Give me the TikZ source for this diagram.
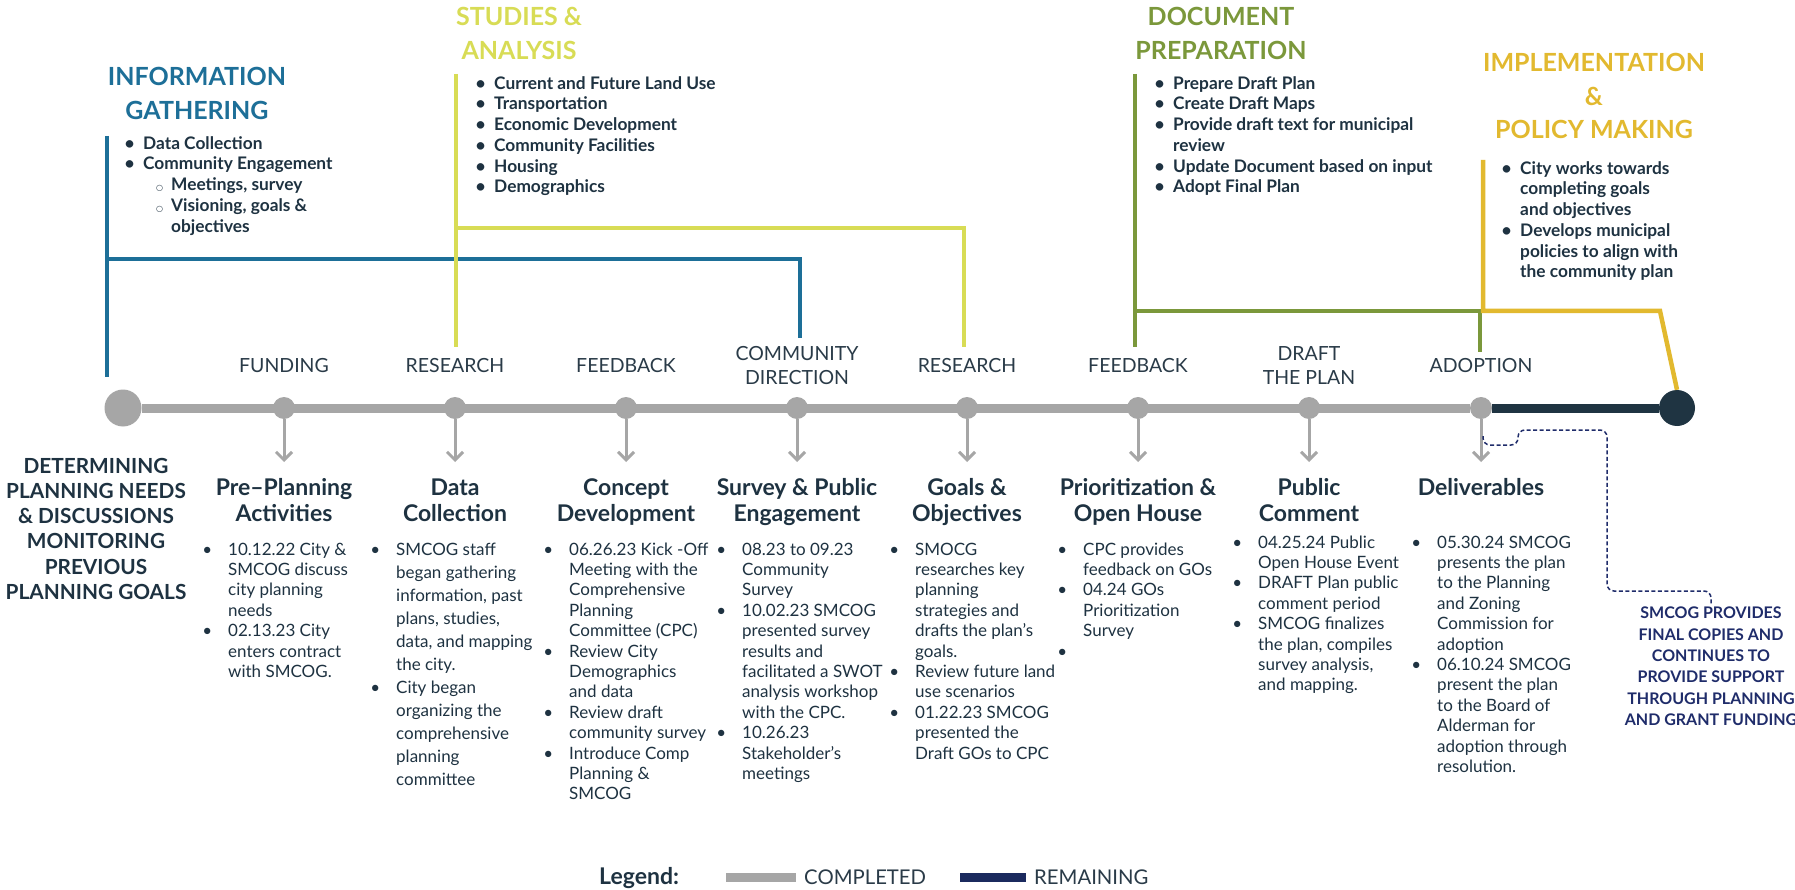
\documentclass[tikz,border=0pt]{standalone}
\usepackage{fontspec}
\setmainfont{Lato}
\newfontfamily\djv{DejaVu Sans}
\usetikzlibrary{arrows.meta,backgrounds}
\definecolor{txt}{HTML}{1E3241}
\definecolor{lbltxt}{HTML}{2A3B48}
\definecolor{tgray}{HTML}{A6A6A6}
\definecolor{tdark}{HTML}{1F3442}
\definecolor{cblue}{HTML}{1D6F98}
\definecolor{cylw}{HTML}{D8DC55}
\definecolor{cgrn}{HTML}{7B983B}
\definecolor{cgold}{HTML}{E2B92F}
\definecolor{cnavy}{HTML}{1F2C6A}
\definecolor{legnavy}{HTML}{1B2A5E}
\newcommand{\mylst}[1]{\begin{tabular}[t]{@{}l@{}}#1\end{tabular}}
\newcommand{\myctr}[1]{\begin{tabular}[t]{@{}c@{}}#1\end{tabular}}
\newcommand{\bul}{\llap{\textbullet\hspace{16pt}}}
\newcommand{\hbul}{\llap{\textbullet\hspace{8.5pt}}}
\newcommand{\sbul}{\llap{{\djv\fontsize{8}{8}\selectfont ○}\hspace{8pt}}}
\newcommand{\subind}{\hspace*{28pt}}
\tikzset{
  dot/.style={circle, fill=tgray, minimum size=22pt, inner sep=0pt},
  bigdot/.style={circle, minimum size=37pt, inner sep=0pt},
  tl/.style={line width=9pt},
  arr/.style={draw=tgray, line width=3pt, -{Straight Barb[length=8pt,width=16pt]}},
  brk/.style={line width=4.5pt},
  hdr/.style={anchor=base, inner sep=0pt, font=\bfseries\fontsize{25}{33.5}\selectfont},
  hlist/.style={anchor=base west, inner sep=0pt, text=txt, font=\bfseries\fontsize{17.3}{20.7}\selectfont},
  lbl/.style={anchor=base, inner sep=0pt, text=lbltxt, font=\fontsize{19.5}{24.5}\selectfont},
  ttl/.style={anchor=base, inner sep=0pt, text=txt, font=\bfseries\fontsize{23}{26}\selectfont},
  blist/.style={anchor=base west, inner sep=0pt, text=txt, font=\fontsize{17}{20.4}\selectfont},
  det/.style={anchor=base, inner sep=0pt, text=txt, font=\bfseries\fontsize{20.8}{25.3}\selectfont},
  smc/.style={anchor=base, inner sep=0pt, text=cnavy, font=\bfseries\fontsize{16}{21.3}\selectfont},
  leg/.style={anchor=base west, inner sep=0pt, text=lbltxt, font=\fontsize{20.3}{24}\selectfont},
  dpath/.style={draw=cnavy, line width=1.5pt, dash pattern=on 4pt off 2.5pt, rounded corners=7pt}
}
\begin{document}
\begin{tikzpicture}[x=1pt,y=-1pt]
\useasboundingbox (0,0) rectangle (1795,890);

% ---------- timeline dots ----------
\node[bigdot, fill=tgray] (s0) at (123,408) {};
\foreach \i/\x in {1/284,2/455,3/626,4/797,5/967,6/1138,7/1309,8/1481}{
  \node[dot] (n\i) at (\x,408) {};
  \coordinate (a\i) at (\x,462);
}
\node[bigdot, fill=tdark, minimum size=36pt] (e) at (1677,408) {};

\begin{scope}[on background layer]
  \fill[white] (0,0) rectangle (1795,890);
  \draw[tl, tgray] (s0) -- (n8);
  \draw[tl, tdark] (n8) -- (e);
\end{scope}

\foreach \i in {1,...,8}{ \draw[arr] (n\i.south) -- (a\i); }

% ---------- phase brackets ----------
\draw[brk, cblue] (107,136) -- (107,377);
\draw[brk, cblue] (107,259) -- (800,259) -- (800,338);
\draw[brk, cylw] (456,74) -- (456,347);
\draw[brk, cylw] (456,228) -- (964,228) -- (964,347);
\draw[brk, cgrn] (1135,74) -- (1135,347);
\draw[brk, cgrn] (1135,311) -- (1480,311) -- (1480,352);
\draw[brk, cgold] (1483,160) -- (1483,311) -- (1660,311) -- (e.north);

% ---------- phase headers ----------
\node[hdr, text=cblue] (hInfo) at (197,86) {\myctr{INFORMATION\\GATHERING}};
\node[hdr, text=cylw] (hStud) at (519,26) {\myctr{STUDIES \&\\ANALYSIS}};
\node[hdr, text=cgrn] (hDoc) at (1221,26) {\myctr{DOCUMENT\\PREPARATION}};
\node[hdr, text=cgold] (hImp) at (1594,72) {\myctr{IMPLEMENTATION\\\&\\POLICY MAKING}};

\node[hlist] (lInfo) at (143,149.3) {\mylst{\hbul Data Collection\\\hbul Community Engagement\\\subind\sbul Meetings, survey\\\subind\sbul Visioning, goals \&\\\subind objectives}};
\node[hlist] (lStud) at (494,89.3) {\mylst{\hbul Current and Future Land Use\\\hbul Transportation\\\hbul Economic Development\\\hbul Community Facilities\\\hbul Housing\\\hbul Demographics}};
\node[hlist] (lDoc) at (1173,89.3) {\mylst{\hbul Prepare Draft Plan\\\hbul Create Draft Maps\\\hbul Provide draft text for municipal\\review\\\hbul Update Document based on input\\\hbul Adopt Final Plan}};
\node[hlist] (lImp) at (1520,174.3) {\mylst{\hbul City works towards\\completing goals\\and objectives\\\hbul Develops municipal\\policies to align with\\the community plan}};

% ---------- labels above the timeline ----------
\node[lbl] (l1) at (284,372) {FUNDING};
\node[lbl] (l2) at (455,372) {RESEARCH};
\node[lbl] (l3) at (626,372) {FEEDBACK};
\node[lbl] (l4) at (797,360) {\myctr{COMMUNITY\\DIRECTION}};
\node[lbl] (l5) at (967,372) {RESEARCH};
\node[lbl] (l6) at (1138,372) {FEEDBACK};
\node[lbl] (l7) at (1309,360) {\myctr{DRAFT\\THE PLAN}};
\node[lbl] (l8) at (1481,372) {ADOPTION};

% ---------- left text ----------
\node[det] (det) at (96,473) {\myctr{DETERMINING\\PLANNING NEEDS\\\& DISCUSSIONS\\MONITORING\\PREVIOUS\\PLANNING GOALS}};

% ---------- step titles ----------
\node[ttl] (t1) at (284,495.3) {\myctr{Pre–Planning\\Activities}};
\node[ttl] (t2) at (455,495.3) {\myctr{Data\\Collection}};
\node[ttl] (t3) at (626,495.3) {\myctr{Concept\\Development}};
\node[ttl] (t4) at (797,495.3) {\myctr{Survey \& Public\\Engagement}};
\node[ttl] (t5) at (967,495.3) {\myctr{Goals \&\\Objectives}};
\node[ttl] (t6) at (1138,495.3) {\myctr{Prioritization \&\\Open House}};
\node[ttl] (t7) at (1309,495.3) {\myctr{Public\\Comment}};
\node[ttl] (t8) at (1481,495.3) {Deliverables};

% ---------- step lists ----------
\node[blist] (b1) at (228,555.1) {\mylst{\bul 10.12.22 City \&\\SMCOG discuss\\city planning\\needs\\\bul 02.13.23 City\\enters contract\\with SMCOG.}};
\node[blist, font=\fontsize{17}{23}\selectfont] (b2) at (396,555.1) {\mylst{\bul SMCOG staff\\began gathering\\information, past\\plans, studies,\\data, and mapping\\the city.\\\bul City began\\organizing the\\comprehensive\\planning\\committee}};
\node[blist] (b3) at (569,555.1) {\mylst{\bul 06.26.23 Kick -Off\\Meeting with the\\Comprehensive\\Planning\\Committee (CPC)\\\bul Review City\\Demographics\\and data\\\bul Review draft\\community survey\\\bul Introduce Comp\\Planning \&\\SMCOG}};
\node[blist] (b4) at (742,555.1) {\mylst{\bul 08.23 to 09.23\\Community\\Survey\\\bul 10.02.23 SMCOG\\presented survey\\results and\\facilitated a SWOT\\analysis workshop\\with the CPC.\\\bul 10.26.23\\Stakeholder’s\\meetings}};
\node[blist] (b5) at (915,555.1) {\mylst{\bul SMOCG\\researches key\\planning\\strategies and\\drafts the plan’s\\goals.\\\bul Review future land\\use scenarios\\\bul 01.22.23 SMCOG\\presented the\\Draft GOs to CPC}};
\node[blist] (b6) at (1083,555.1) {\mylst{\bul CPC provides\\feedback on GOs\\\bul 04.24 GOs\\Prioritization\\Survey\\\bul{}}};
\node[blist] (b7) at (1258,548.1) {\mylst{\bul 04.25.24 Public\\Open House Event\\\bul DRAFT Plan public\\comment period\\\bul SMCOG finalizes\\the plan, compiles\\survey analysis,\\and mapping.}};
\node[blist] (b8) at (1437,548.1) {\mylst{\bul 05.30.24 SMCOG\\presents the plan\\to the Planning\\and Zoning\\Commission for\\adoption\\\bul 06.10.24 SMCOG\\present the plan\\to the Board of\\Alderman for\\adoption through\\resolution.}};

% ---------- after adoption ----------
\node[smc] (smc) at (1711,618.8) {\myctr{SMCOG PROVIDES\\FINAL COPIES AND\\CONTINUES TO\\PROVIDE SUPPORT\\THROUGH PLANNING\\AND GRANT FUNDING}};
\coordinate (dstart) at (1483,436);
\draw[dpath] (dstart) |- (1518,445) |- (1607,430) |- (1660,591) -| (smc.north);

% ---------- legend ----------
\node[leg, font=\bfseries\fontsize{23}{24}\selectfont, text=txt] (lg) at (599,884.8) {Legend:};
\draw[line width=9pt, tgray] (726,877) -- (796,877);
\node[leg] (lgc) at (804,884.3) {COMPLETED};
\draw[line width=9pt, legnavy] (960,877) -- (1026,877);
\node[leg] (lgr) at (1034,884.3) {REMAINING};
\end{tikzpicture}
\end{document}
